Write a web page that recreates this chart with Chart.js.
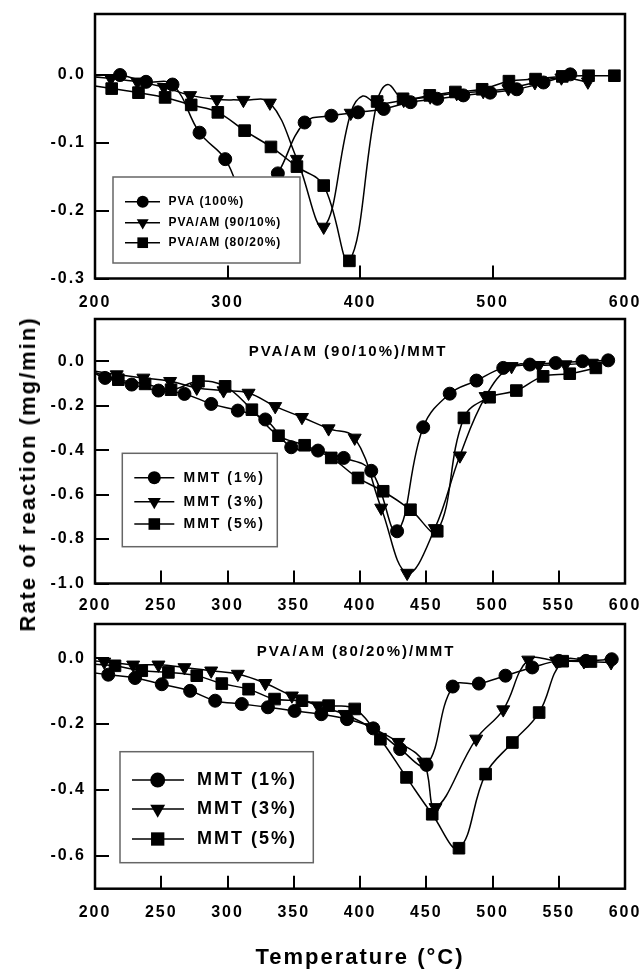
<!DOCTYPE html>
<html>
<head>
<meta charset="utf-8">
<script src="https://cdn.jsdelivr.net/npm/chart.js@4.4.1/dist/chart.umd.min.js"></script>
<style>
  html, body { margin: 0; padding: 0; background: #fff; overflow: hidden; }
  #wrap { position: relative; width: 643px; height: 969px; }
  canvas { position: absolute; left: 0; }
  #ytitle {
    position: absolute; left: 28px; top: 474px;
    transform: translate(-50%, -50%) rotate(-90deg);
    font: bold 22px "Liberation Sans", Arial, sans-serif;
    letter-spacing: 2px; white-space: nowrap; color: #000;
  }
</style>
</head>
<body>
<div id="wrap">
  <canvas id="c1" width="643" height="315" style="top:0px"></canvas>
  <canvas id="c2" width="643" height="315" style="top:305px"></canvas>
  <canvas id="c3" width="643" height="359" style="top:610px"></canvas>
  <div id="ytitle">Rate of reaction (mg/min)</div>
</div>
<script>
// ---- panel 1 : PVA and PVA/AM blends ----
// first point of every series is where the curve leaves the left border (no marker)
const pvaT = [200, 218.9, 238.5, 258.5, 278.9, 298.3, 318, 338, 358.2, 378.4, 398.5, 417.9, 438.1, 458.3, 478, 498.2, 518.3, 538.5, 558.7];
const pvaV = [-0.001, 0.000, -0.010, -0.014, -0.085, -0.124, -0.200, -0.145, -0.070, -0.060, -0.055, -0.050, -0.040, -0.035, -0.030, -0.026, -0.021, -0.011, 0.001];
const pvaMark = [0, 1, 1, 1, 1, 1, 1, 1, 1, 1, 1, 1, 1, 1, 1, 1, 1, 1, 1];

const am90T = [200, 212, 232, 252, 271.8, 292, 312, 332, 352.4, 372.6, 393, 402, 413, 433, 453, 473, 493, 512, 532, 552, 572];
const am90V = [-0.003, -0.005, -0.010, -0.018, -0.030, -0.036, -0.037, -0.041, -0.124, -0.224, -0.056, -0.031, -0.042, -0.037, -0.032, -0.027, -0.024, -0.020, -0.011, -0.004, -0.010];
const am90Mark = [0, 1, 1, 1, 1, 1, 1, 1, 1, 1, 1, 0, 1, 1, 1, 1, 1, 1, 1, 1, 1];

const am80T = [200, 212.6, 232.8, 252.9, 272.6, 292.7, 312.9, 332.8, 352.4, 372.6, 392, 412.9, 421, 432.5, 452.7, 472, 492.2, 512.4, 532.5, 552.7, 572.5, 592];
const am80V = [-0.016, -0.020, -0.026, -0.033, -0.044, -0.055, -0.082, -0.106, -0.135, -0.163, -0.274, -0.039, -0.014, -0.035, -0.030, -0.025, -0.021, -0.009, -0.006, -0.002, -0.001, -0.001];
const am80Mark = [0, 1, 1, 1, 1, 1, 1, 1, 1, 1, 1, 1, 0, 1, 1, 1, 1, 1, 1, 1, 1, 1];

// ---- panel 2 : PVA/AM (90/10%)/MMT ----
const m1aT = [200, 207.6, 227.7, 247.9, 267.5, 287.7, 307.8, 328.5, 348.1, 368.3, 387.7, 408.5, 428, 447.7, 467.7, 487.9, 508.1, 528.2, 547.7, 567.9, 587.3];
const m1aV = [-0.055, -0.075, -0.105, -0.132, -0.147, -0.192, -0.222, -0.262, -0.387, -0.402, -0.435, -0.493, -0.765, -0.297, -0.146, -0.087, -0.030, -0.015, -0.008, 0.000, 0.004];
const m1aMark = [0, 1, 1, 1, 1, 1, 1, 1, 1, 1, 1, 1, 1, 1, 1, 1, 1, 1, 1, 1, 1];

const m3aT = [200, 216.4, 236.5, 256.7, 276.8, 297, 315.9, 336, 356.2, 376.3, 396, 416, 435.6, 456.5, 475.4, 494.8, 514.4, 535, 555, 575];
const m3aV = [-0.045, -0.060, -0.075, -0.090, -0.120, -0.132, -0.143, -0.203, -0.252, -0.303, -0.345, -0.660, -0.953, -0.752, -0.425, -0.158, -0.023, -0.018, -0.015, -0.008];
const m3aMark = [0, 1, 1, 1, 1, 1, 1, 1, 1, 1, 1, 1, 1, 1, 1, 1, 1, 1, 1, 1];

const m5aT = [200, 217.6, 237.8, 257.4, 278.1, 298.2, 318.4, 338.5, 358.2, 378.3, 398.5, 417.5, 438.1, 458.3, 478.4, 497.8, 518, 538.2, 558.3, 578];
const m5aV = [-0.050, -0.083, -0.102, -0.128, -0.090, -0.113, -0.218, -0.335, -0.378, -0.435, -0.525, -0.585, -0.668, -0.765, -0.255, -0.162, -0.132, -0.068, -0.056, -0.030];
const m5aMark = [0, 1, 1, 1, 1, 1, 1, 1, 1, 1, 1, 1, 1, 1, 1, 1, 1, 1, 1, 1];

// ---- panel 3 : PVA/AM (80/20%)/MMT ----
const m1bT = [200, 210, 230.2, 250.4, 271.8, 290.7, 310.8, 330.5, 350.6, 370.8, 390.2, 410, 430.3, 450.2, 470, 489.7, 509.8, 530, 550, 570.6, 590];
const m1bV = [-0.045, -0.050, -0.060, -0.079, -0.099, -0.129, -0.139, -0.149, -0.160, -0.170, -0.185, -0.213, -0.276, -0.324, -0.086, -0.077, -0.053, -0.028, -0.008, -0.008, -0.003];
const m1bMark = [0, 1, 1, 1, 1, 1, 1, 1, 1, 1, 1, 1, 1, 1, 1, 1, 1, 1, 1, 1, 1];

const m3bT = [200, 207, 228.8, 247.9, 267.5, 287.7, 307.8, 328.5, 348.6, 368.3, 388.4, 408.6, 429, 448, 457, 487.7, 508.1, 527, 548, 569, 589.5];
const m3bV = [-0.008, -0.011, -0.020, -0.020, -0.028, -0.038, -0.048, -0.076, -0.114, -0.144, -0.170, -0.210, -0.255, -0.315, -0.453, -0.245, -0.156, -0.005, -0.008, -0.010, -0.013];
const m3bMark = [0, 1, 1, 1, 1, 1, 1, 1, 1, 1, 1, 1, 1, 1, 1, 1, 1, 1, 1, 1, 1];

const m5bT = [200, 215.1, 235.3, 255.4, 276.8, 295.7, 315.9, 335.5, 356.2, 376.3, 396, 415.4, 435.1, 454.5, 474.7, 494.8, 515, 535.2, 553, 574.3];
const m5bV = [-0.018, -0.023, -0.038, -0.043, -0.053, -0.077, -0.094, -0.124, -0.129, -0.144, -0.154, -0.246, -0.362, -0.474, -0.577, -0.352, -0.256, -0.165, -0.009, -0.010];
const m5bMark = [0, 1, 1, 1, 1, 1, 1, 1, 1, 1, 1, 1, 1, 1, 1, 1, 1, 1, 1, 1];

// tick labels
const xTicks1 = [200, 300, 400, 500, 600];
const xTicks23 = [200, 250, 300, 350, 400, 450, 500, 550, 600];
const yTicks1 = [-0.3, -0.2, -0.1, 0.0];
const yTicks2 = [-1.0, -0.8, -0.6, -0.4, -0.2, 0.0];
const yTicks3 = [-0.6, -0.4, -0.2, 0.0];

const FONT = '"Liberation Sans", Arial, Helvetica, sans-serif';
const R = { circle: 6.5, triangle: 7.5, rect: 8.2 };

Chart.defaults.font.family = FONT;
Chart.defaults.color = '#000';

function series(label, T, V, mark, style) {
  return { label, data: T.map((t, i) => ({ x: t, y: V[i] })), mark, style };
}

function marker(ctx, style, x, y, r) {
  ctx.beginPath();
  if (style === 'circle') {
    ctx.arc(x, y, r, 0, Math.PI * 2);
  } else if (style === 'triangle') {
    ctx.moveTo(x, y + r);
    ctx.lineTo(x - r * 0.866, y - r / 2);
    ctx.lineTo(x + r * 0.866, y - r / 2);
    ctx.closePath();
  } else {
    const h = r * Math.SQRT1_2;
    ctx.rect(x - h, y - h, 2 * h, 2 * h);
  }
  ctx.fill();
}

function noPad(s) {
  s.paddingTop = 0; s.paddingBottom = 0; s.paddingLeft = 0; s.paddingRight = 0;
}

const spacing = {
  id: 'spacing',
  beforeDraw(chart) { chart.ctx.letterSpacing = '2px'; }
};

const frame = {
  id: 'frame',
  afterDraw(chart) {
    const a = chart.chartArea, ctx = chart.ctx;
    ctx.save();
    ctx.strokeStyle = '#000';
    ctx.lineWidth = 2.5;
    ctx.strokeRect(a.left, a.top, a.right - a.left, a.bottom - a.top);
    ctx.restore();
  }
};

const panelText = {
  id: 'panelText',
  afterDatasetsDraw(chart, args, o) {
    if (!o.text) return;
    const ctx = chart.ctx;
    ctx.save();
    ctx.font = 'bold 15px ' + FONT;
    ctx.letterSpacing = '2px';
    ctx.textAlign = 'center';
    ctx.textBaseline = 'middle';
    ctx.fillStyle = '#000';
    ctx.fillText(o.text, o.x, o.y);
    ctx.restore();
  }
};

const boxLegend = {
  id: 'boxLegend',
  afterDatasetsDraw(chart, args, o) {
    const ctx = chart.ctx;
    ctx.save();
    ctx.fillStyle = '#fff';
    ctx.fillRect(o.x, o.y, o.w, o.h);
    ctx.strokeStyle = '#666';
    ctx.lineWidth = 1.5;
    ctx.strokeRect(o.x, o.y, o.w, o.h);
    ctx.font = 'bold ' + o.size + 'px ' + FONT;
    ctx.letterSpacing = o.ls + 'px';
    ctx.textBaseline = 'middle';
    chart.data.datasets.forEach((ds, i) => {
      const y = o.rows[i];
      ctx.strokeStyle = '#000';
      ctx.lineWidth = 1.5;
      ctx.beginPath();
      ctx.moveTo(o.line[0], y);
      ctx.lineTo(o.line[1], y);
      ctx.stroke();
      ctx.fillStyle = '#000';
      marker(ctx, ds.pointStyle, o.mx, y, R[ds.pointStyle] * o.k);
      ctx.fillText(ds.label, o.tx, y);
    });
    ctx.restore();
  }
};

function panel(id, sets, p) {
  return new Chart(document.getElementById(id), {
    type: 'line',
    data: {
      datasets: sets.map(s => ({
        label: s.label,
        data: s.data,
        borderColor: '#000',
        borderWidth: 1.5,
        tension: 0.4,
        pointStyle: s.style,
        pointRotation: s.style === 'triangle' ? 180 : 0,
        pointRadius: c => (s.mark[c.dataIndex] ? R[s.style] : 0),
        pointBackgroundColor: '#000',
        pointBorderColor: '#000',
        pointBorderWidth: 1
      }))
    },
    options: {
      responsive: false,
      animation: false,
      devicePixelRatio: 1,
      layout: { padding: { top: 14, right: 18, left: 0, bottom: 0 } },
      plugins: {
        legend: { display: false },
        tooltip: { enabled: false },
        boxLegend: p.legend,
        panelText: p.title || {}
      },
      scales: {
        x: {
          type: 'linear',
          min: 200, max: 600,
          afterBuildTicks: s => { s.ticks = p.xTicks.map(v => ({ value: v })); },
          afterFit: s => { s.height = p.xh; noPad(s); },
          border: { display: false },
          grid: { drawOnChartArea: false, tickLength: -13, lineWidth: 2, color: '#000' },
          ticks: {
            autoSkip: false, maxRotation: 0,
            padding: p.xPad, color: '#000',
            font: { size: 16, weight: 'bold', lineHeight: 1.2 }
          },
          title: p.xTitle ? {
            display: true, text: 'Temperature (°C)', color: '#000',
            font: { size: 22, weight: 'bold', lineHeight: 1 },
            padding: { top: 0, bottom: 0 }
          } : { display: false }
        },
        y: {
          min: p.yMin, max: p.yMax,
          afterBuildTicks: s => { s.ticks = p.yTicks.map(v => ({ value: v })); },
          afterFit: s => { s.width = 95; noPad(s); },
          border: { display: false },
          grid: { drawOnChartArea: false, tickLength: -14, lineWidth: 2, color: '#000' },
          ticks: {
            autoSkip: false,
            padding: 23, color: '#000',
            font: { size: 16, weight: 'bold' },
            callback: v => (Math.abs(v) < 1e-9 ? 0 : v).toFixed(1)
          }
        }
      }
    },
    plugins: [spacing, frame, panelText, boxLegend]
  });
}

panel('c1', [
  series('PVA (100%)', pvaT, pvaV, pvaMark, 'circle'),
  series('PVA/AM (90/10%)', am90T, am90V, am90Mark, 'triangle'),
  series('PVA/AM (80/20%)', am80T, am80V, am80Mark, 'rect')
], {
  yMin: -0.3, yMax: 0.09, yTicks: yTicks1, xTicks: xTicks1, xh: 36.5, xPad: 27,
  legend: { x: 113, y: 177, w: 187, h: 86, rows: [201.7, 222.7, 242.7], line: [125, 160], mx: 142.7, tx: 168.5, size: 12, ls: 1, k: 0.92 }
});

panel('c2', [
  series('MMT (1%)', m1aT, m1aV, m1aMark, 'circle'),
  series('MMT (3%)', m3aT, m3aV, m3aMark, 'triangle'),
  series('MMT (5%)', m5aT, m5aV, m5aMark, 'rect')
], {
  yMin: -1.0, yMax: 0.19, yTicks: yTicks2, xTicks: xTicks23, xh: 36.5, xPad: 25,
  title: { text: 'PVA/AM (90/10%)/MMT', x: 348, y: 47 },
  legend: { x: 122.3, y: 148.3, w: 155, h: 93.4, rows: [172.7, 196.7, 219], line: [134.3, 174.3], mx: 154.3, tx: 183.5, size: 14, ls: 2, k: 1 }
});

panel('c3', [
  series('MMT (1%)', m1bT, m1bV, m1bMark, 'circle'),
  series('MMT (3%)', m3bT, m3bV, m3bMark, 'triangle'),
  series('MMT (5%)', m5bT, m5bV, m5bMark, 'rect')
], {
  yMin: -0.7, yMax: 0.104, yTicks: yTicks3, xTicks: xTicks23, xh: 80.3, xPad: 27, xTitle: true,
  title: { text: 'PVA/AM (80/20%)/MMT', x: 356, y: 41.7 },
  legend: { x: 120, y: 141.7, w: 193.3, h: 111, rows: [170, 199, 229], line: [132, 184], mx: 157.7, tx: 197, size: 18, ls: 2, k: 1.15 }
});
</script>
</body>
</html>
